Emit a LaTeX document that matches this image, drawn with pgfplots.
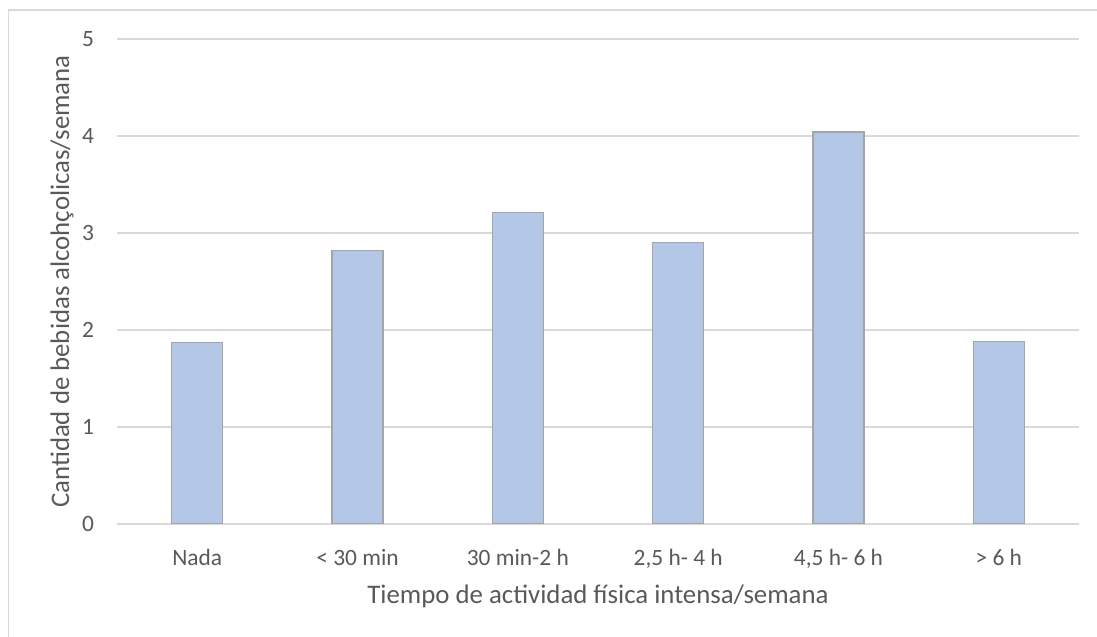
\documentclass[border=0pt]{standalone}
\usepackage{pgfplots}
\pgfplotsset{compat=1.18}
\usepackage{fontspec}
\setmainfont{Carlito}
\definecolor{barfill}{HTML}{B4C7E7}
\definecolor{baredge}{HTML}{A5A5A5}
\definecolor{gridc}{HTML}{D9D9D9}
\definecolor{txt}{HTML}{595959}
\begin{document}
\begin{tikzpicture}
\begin{axis}[
  scale only axis,
  width=481pt, height=242.5pt,
  xmin=-0.5, xmax=5.5, ymin=0, ymax=5,
  xtick={0,1,2,3,4,5},
  xticklabels={{Nada},{< 30 min},{30 min-2 h},{2,5 h- 4 h},{4,5 h- 6 h},{> 6 h}},
  ytick={0,1,2,3,4,5},
  ymajorgrids,
  grid style={gridc, line width=0.75pt},
  axis line style={draw=none},
  major tick length=0pt,
  tick label style={font=\fontsize{11.7}{14}\selectfont, text=txt},
  /pgf/number format/assume math mode=true,
  yticklabel style={anchor=east, xshift=-8pt},
  xticklabel style={anchor=north, yshift=-9pt},
  every axis y label/.style={at={(axis description cs:0,0.5)}, xshift=-27.5pt, rotate=90, anchor=center, font=\fontsize{13.4}{16}\selectfont, text=txt},
  every axis x label/.style={at={(axis description cs:0.5,0)}, yshift=-36pt, anchor=center, font=\fontsize{13.4}{16}\selectfont, text=txt},
  ylabel={Cantidad de bebidas alcohçolicas/semana},
  xlabel={Tiempo de actividad física intensa/semana},
  ybar, bar width=25.5pt, bar shift=0pt,
]
\addplot[fill=barfill, draw=baredge, line width=0.75pt] coordinates {(0,1.87) (1,2.82) (2,3.21) (3,2.90) (4,4.04) (5,1.88)};
\coordinate (bl) at (rel axis cs:0,0);
\coordinate (tr) at (rel axis cs:1,1);
\end{axis}
\pgfresetboundingbox
\path[use as bounding box] ([xshift=-58.5pt,yshift=-56.5pt]bl) rectangle ([xshift=9pt,yshift=19.5pt]tr);
\draw[gridc, line width=0.75pt] ([xshift=-54.25pt,yshift=-60pt]bl) |- ([xshift=12pt,yshift=14.5pt]tr);
\end{tikzpicture}
\end{document}
